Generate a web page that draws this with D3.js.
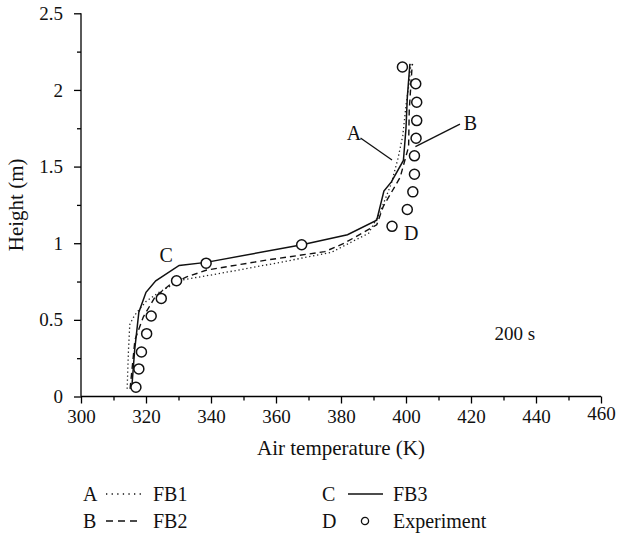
<!DOCTYPE html>
<html>
<head>
<meta charset="utf-8">
<script src="https://cdn.jsdelivr.net/npm/d3@7"></script>
<style>
  body { margin: 0; background: #fff; }
  svg { display: block; }
  text { font-family: "Liberation Serif", "Times New Roman", serif; fill: #111; }
</style>
</head>
<body>
<div id="chart"></div>
<script>
// === Data (air temperature in K, height in m) ===
var fb1Temp   = [314.2, 314.6, 315.0, 316.5, 320.0, 324.0, 331.0, 342.0, 360.0, 377.0, 388.5, 392.0, 395.5, 397.5, 399.0, 400.0, 401.0, 401.5];
var fb1Height = [0.05, 0.30, 0.47, 0.53, 0.62, 0.68, 0.76, 0.80, 0.87, 0.94, 1.065, 1.20, 1.39, 1.55, 1.70, 1.90, 2.05, 2.17];

var fb2Temp   = [315.1, 316.6, 319.2, 322.8, 327.4, 332.5, 338.7, 357.1, 375.0, 381.0, 391.0, 393.0, 398.2, 400.8, 401.0, 401.8, 402.0];
var fb2Height = [0.05, 0.37, 0.52, 0.65, 0.73, 0.78, 0.825, 0.89, 0.945, 1.00, 1.12, 1.24, 1.43, 1.63, 1.87, 2.13, 2.17];

var fb3Temp   = [315.6, 316.5, 317.8, 320.0, 323.0, 330.2, 338.5, 368.0, 382.0, 391.0, 393.2, 395.5, 399.2, 400.0, 400.4, 401.2];
var fb3Height = [0.05, 0.30, 0.55, 0.68, 0.755, 0.855, 0.875, 0.99, 1.055, 1.15, 1.34, 1.40, 1.54, 1.75, 1.95, 2.17];

var expTemp   = [316.9, 317.8, 318.6, 320.2, 321.6, 324.7, 329.4, 338.5, 367.9, 395.7, 400.4, 402.1, 402.6, 402.6, 403.1, 403.3, 403.3, 403.0, 398.9];
var expHeight = [0.06, 0.18, 0.29, 0.41, 0.525, 0.64, 0.755, 0.87, 0.99, 1.11, 1.22, 1.335, 1.45, 1.57, 1.685, 1.80, 1.92, 2.04, 2.15];

var xTicks = [300, 320, 340, 360, 380, 400, 420, 440, 460];
var yTicks = [0, 0.5, 1, 1.5, 2, 2.5];

// curve letters and where they sit (data coords)
var annLabels = ["A", "B", "C", "D"];
var annTemp   = [384.0, 419.8, 326.2, 401.6];
var annHeight = [1.72, 1.785, 0.923, 1.066];
// leader lines for A and B: [T1, h1, T2, h2]
var leaderA = [386.0, 1.686, 395.7, 1.543];
var leaderB = [416.6, 1.777, 402.9, 1.63];

var legendKeys  = ["A", "B", "C", "D"];
var legendNames = ["FB1", "FB2", "FB3", "Experiment"];

function zip(t, h) { return t.map(function (v, i) { return [v, h[i]]; }); }

//  === Chart ===
var width = 617, height = 533;
var svg = d3.select("#chart").append("svg")
    .attr("width", width)
    .attr("height", height);

var x = d3.scaleLinear().domain([300, 460]).range([81, 601]);
var y = d3.scaleLinear().domain([0, 2.5]).range([396.5, 13.3]);

// minor ticks first (short), then major ticks with labels
svg.append("g")
    .attr("transform", "translate(0," + y(0) + ")")
    .call(d3.axisBottom(x).tickValues(d3.range(310, 460, 20)).tickSize(4).tickFormat(""))
    .call(function (g) { g.select(".domain").remove(); });
var xAxis = svg.append("g")
    .attr("transform", "translate(0," + y(0) + ")")
    .call(d3.axisBottom(x).tickValues(xTicks).tickSize(7).tickPadding(6).tickFormat(d3.format("d")));

svg.append("g")
    .attr("transform", "translate(" + x(300) + ",0)")
    .call(d3.axisLeft(y).tickValues([0.25, 0.75, 1.25, 1.75, 2.25]).tickSize(4).tickFormat(""))
    .call(function (g) { g.select(".domain").remove(); });
var yAxis = svg.append("g")
    .attr("transform", "translate(" + x(300) + ",0)")
    .call(d3.axisLeft(y).tickValues(yTicks).tickSize(7).tickPadding(11).tickFormat(function (d) { return d; }));

svg.selectAll(".domain").attr("d", null);
xAxis.append("line").attr("x1", x(300)).attr("x2", x(460)).attr("stroke", "#000").attr("stroke-width", 1.3);
yAxis.append("line").attr("y1", y(0)).attr("y2", y(2.5)).attr("stroke", "#000").attr("stroke-width", 1.3);
svg.selectAll(".tick line").attr("stroke", "#000").attr("stroke-width", 1.3);
svg.selectAll(".tick text")
    .style("font-family", "Liberation Serif, serif")
    .style("font-size", "19px")
    .attr("fill", "#111");
// the 460 label sits a little higher in the original
xAxis.selectAll(".tick text").filter(function (d) { return d == 460; }).attr("y", 10);

// axis titles
svg.append("text")
    .attr("x", (x(300) + x(460)) / 2)
    .attr("y", 455)
    .attr("text-anchor", "middle")
    .style("font-size", "21px")
    .text("Air temperature (K)");
svg.append("text")
    .attr("transform", "translate(23," + (y(0) + y(2.5)) / 2 + ") rotate(-90)")
    .attr("text-anchor", "middle")
    .style("font-size", "21px")
    .text("Height (m)");

// lines
var line = d3.line()
    .x(function (d) { return x(d[0]); })
    .y(function (d) { return y(d[1]); });

svg.append("path").datum(zip(fb1Temp, fb1Height))
    .attr("d", line).attr("fill", "none").attr("stroke", "#222")
    .attr("stroke-width", 1.3).attr("stroke-dasharray", "1.3,2.7");
svg.append("path").datum(zip(fb2Temp, fb2Height))
    .attr("d", line).attr("fill", "none").attr("stroke", "#111")
    .attr("stroke-width", 1.4).attr("stroke-dasharray", "6,4");
svg.append("path").datum(zip(fb3Temp, fb3Height))
    .attr("d", line).attr("fill", "none").attr("stroke", "#111")
    .attr("stroke-width", 1.5);

svg.selectAll(".exp")
    .data(zip(expTemp, expHeight))
    .enter()
    .append("circle")
    .attr("class", "exp")
    .attr("cx", function (d) { return x(d[0]); })
    .attr("cy", function (d) { return y(d[1]); })
    .attr("r", 5)
    .attr("fill", "#fff")
    .attr("stroke", "#111")
    .attr("stroke-width", 1.5);

// annotations
[leaderA, leaderB].forEach(function (l) {
    svg.append("line")
        .attr("x1", x(l[0])).attr("y1", y(l[1]))
        .attr("x2", x(l[2])).attr("y2", y(l[3]))
        .attr("stroke", "#111").attr("stroke-width", 1.3);
});
annLabels.forEach(function (t, i) {
    svg.append("text")
        .attr("x", x(annTemp[i]))
        .attr("y", y(annHeight[i]))
        .attr("dy", "0.35em")
        .attr("text-anchor", "middle")
        .style("font-size", "20px")
        .text(t);
});
svg.append("text")
    .attr("x", x(433.5))
    .attr("y", y(0.41))
    .attr("dy", "0.35em")
    .attr("text-anchor", "middle")
    .style("font-size", "19px")
    .text("200 s");

// legend
var legendX = [83, 83, 322, 322];
var legendY = [494, 521, 494, 521];
legendKeys.forEach(function (k, i) {
    var g = svg.append("g").attr("transform", "translate(" + legendX[i] + "," + legendY[i] + ")");
    g.append("text").attr("x", 0).attr("dy", "0.35em").style("font-size", "20px").text(k);
    if (i == 3) {
        g.append("circle").attr("cx", 43).attr("cy", 0).attr("r", 3.6)
            .attr("fill", "#fff").attr("stroke", "#111").attr("stroke-width", 1.3);
    } else {
        var ln = g.append("line").attr("x1", i < 2 ? 23 : 26).attr("x2", i < 2 ? 58 : 61)
            .attr("y1", 0).attr("y2", 0).attr("stroke", "#111");
        if (i == 0) ln.attr("stroke-width", 1.3).attr("stroke-dasharray", "1.3,4.3");
        if (i == 1) ln.attr("stroke-width", 1.4).attr("stroke-dasharray", "7,5");
        if (i == 2) ln.attr("stroke-width", 1.5);
    }
    g.append("text").attr("x", i < 2 ? 70 : 71).attr("dy", "0.35em").style("font-size", "20px").text(legendNames[i]);
});
</script>
</body>
</html>
